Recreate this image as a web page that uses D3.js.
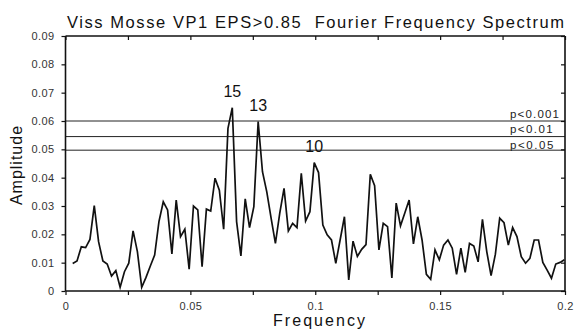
<!DOCTYPE html>
<html>
<head>
<meta charset="utf-8">
<script src="https://cdn.jsdelivr.net/npm/d3@7"></script>
<style>
  body { margin: 0; background: #fff; }
  svg { display: block; font-family: "Liberation Sans", Arial, sans-serif; }
</style>
</head>
<body>
<div id="container"></div>
<script>
// spectrum amplitudes, one per frequency step
const amplitude = [
  0.0097, 0.0106, 0.0156, 0.0153, 0.0182, 0.0301, 0.0174, 0.0106, 0.0095, 0.0053,
  0.0072, 0.0013, 0.0068, 0.0098, 0.0212, 0.0139, 0.0013, 0.0048, 0.0088, 0.0127,
  0.0245, 0.0315, 0.0286, 0.0131, 0.0321, 0.0192, 0.0218, 0.0077, 0.0300, 0.0286,
  0.0086, 0.0289, 0.0282, 0.0398, 0.0356, 0.0218, 0.0574, 0.0647, 0.0245, 0.0124,
  0.0325, 0.0224, 0.0298, 0.0598, 0.0421, 0.0350, 0.0257, 0.0168, 0.0274, 0.0362,
  0.0212, 0.0239, 0.0224, 0.0415, 0.0247, 0.0280, 0.0453, 0.0418, 0.0233, 0.0198,
  0.0180, 0.0098, 0.0180, 0.0262, 0.0039, 0.0176, 0.0122, 0.0147, 0.0164, 0.0412,
  0.0372, 0.0145, 0.0239, 0.0227, 0.0046, 0.0310, 0.0230, 0.0275, 0.0321, 0.0166,
  0.0262, 0.0180, 0.0059, 0.0041, 0.0145, 0.0110, 0.0162, 0.0180, 0.0151, 0.0059,
  0.0151, 0.0066, 0.0168, 0.0159, 0.0103, 0.0253, 0.0139, 0.0054, 0.0130, 0.0257,
  0.0241, 0.0162, 0.0224, 0.0192, 0.0121, 0.0098, 0.0115, 0.0180, 0.0180, 0.0101,
  0.0074, 0.0045, 0.0095, 0.0101, 0.0110
];
const freqStart = 0.00288;
const freqStep = 0.001727;

const peakLabels = ["15", "13", "10"];
const peakIndex = [37, 43, 56];

const sigLabels = ["p<0.001", "p<0.01", "p<0.05"];
const sigLevels = [0.0600, 0.0545, 0.0497];

const xTicks = [0, 0.025, 0.05, 0.075, 0.1, 0.125, 0.15, 0.175, 0.2];
const xTickLabels = ["0", "", "0.05", "", "0.1", "", "0.15", "", "0.2"];
const yTicks = [0, 0.01, 0.02, 0.03, 0.04, 0.05, 0.06, 0.07, 0.08, 0.09];
const yTickLabels = ["0", "0.01", "0.02", "0.03", "0.04", "0.05", "0.06", "0.07", "0.08", "0.09"];

const w = 575;
const h = 330;
const padL = 65.5, padR = 565, padT = 36, padB = 291;

const data = amplitude.map((a, i) => ({ f: freqStart + i * freqStep, a: a }));

const x = d3.scaleLinear().domain([0, 0.2]).range([padL, padR]);
const y = d3.scaleLinear().domain([0, 0.09]).range([padB, padT]);

const svg = d3.select("#container")
  .append("svg")
  .attr("width", w)
  .attr("height", h);

// title
svg.append("text")
  .attr("x", 67)
  .attr("y", 28)
  .attr("font-size", 16.5)
  .attr("fill", "#111")
  .style("white-space", "pre")
  .attr("textLength", 497)
  .attr("lengthAdjust", "spacing")
  .text("Viss Mosse VP1 EPS>0.85  Fourier Frequency Spectrum");

// significance lines
svg.selectAll(".sig")
  .data(sigLevels)
  .enter().append("line")
  .attr("class", "sig")
  .attr("x1", padL).attr("x2", padR)
  .attr("y1", d => y(d)).attr("y2", d => y(d))
  .attr("stroke", "#222")
  .attr("stroke-width", 1);

const sigBase = [117.5, 133.3, 148.5];
const sigWidth = [49, 42.7, 43.3];
svg.selectAll(".sigLabel")
  .data(sigLabels)
  .enter().append("text")
  .attr("class", "sigLabel")
  .attr("x", 510)
  .attr("y", (d, i) => sigBase[i])
  .attr("font-size", 11.5)
  .attr("fill", "#222")
  .attr("textLength", (d, i) => sigWidth[i])
  .attr("lengthAdjust", "spacing")
  .text(d => d);

// spectrum line
const line = d3.line().x(d => x(d.f)).y(d => y(d.a));
svg.append("path")
  .datum(data)
  .attr("d", line)
  .attr("fill", "none")
  .attr("stroke", "#111")
  .attr("stroke-width", 1.7)
  .attr("stroke-linejoin", "miter");

// peak labels
svg.selectAll(".peak")
  .data(peakIndex)
  .enter().append("text")
  .attr("class", "peak")
  .attr("x", d => x(data[d].f))
  .attr("y", d => y(data[d].a) - 10.5)
  .attr("text-anchor", "middle")
  .attr("font-size", 16)
  .attr("fill", "#111")
  .text((d, i) => peakLabels[i]);

// axes
const axisBottom = d3.axisBottom(x).tickValues(xTicks)
  .tickFormat((d, i) => xTickLabels[i]).tickSize(4).tickPadding(7);
const axisLeft = d3.axisLeft(y).tickValues(yTicks)
  .tickFormat((d, i) => yTickLabels[i]).tickSize(4).tickPadding(7);
const axisTop = d3.axisBottom(x).tickValues(xTicks).tickFormat("").tickSize(4);
const axisRight = d3.axisLeft(y).tickValues(yTicks).tickFormat("").tickSize(4);

const gB = svg.append("g").attr("transform", `translate(0,${padB})`).call(axisBottom);
const gL = svg.append("g").attr("transform", `translate(${padL},0)`).call(axisLeft);
const gT = svg.append("g").attr("transform", `translate(0,${padT})`).call(axisTop);
const gR = svg.append("g").attr("transform", `translate(${padR},0)`).call(axisRight);

[gB, gL, gT, gR].forEach(g => {
  g.select(".domain").attr("stroke", "#111").attr("stroke-width", 1.6);
  g.selectAll(".tick line").attr("stroke", "#111").attr("stroke-width", 1.2);
  g.selectAll(".tick text")
    .attr("fill", "#333")
    .attr("font-size", 11)
    .attr("font-family", "Liberation Sans, Arial, sans-serif")
    .attr("letter-spacing", "0.4px");
});
gT.select(".domain").attr("d", `M${padL},0H${padR}`);
gR.select(".domain").attr("d", `M0,${padB}V${padT}`);
gL.select(".domain").attr("d", `M0,${padB}V${padT}`);
gB.select(".domain").attr("d", `M${padL},0H${padR}`);

// axis titles
svg.append("text")
  .attr("x", 319)
  .attr("y", 326)
  .attr("text-anchor", "middle")
  .attr("font-size", 16)
  .attr("fill", "#111")
  .attr("textLength", 92)
  .attr("lengthAdjust", "spacing")
  .text("Frequency");

svg.append("text")
  .attr("transform", "translate(22,165) rotate(-90)")
  .attr("text-anchor", "middle")
  .attr("font-size", 16)
  .attr("fill", "#111")
  .attr("letter-spacing", "1px")
  .text("Amplitude");
</script>
</body>
</html>
